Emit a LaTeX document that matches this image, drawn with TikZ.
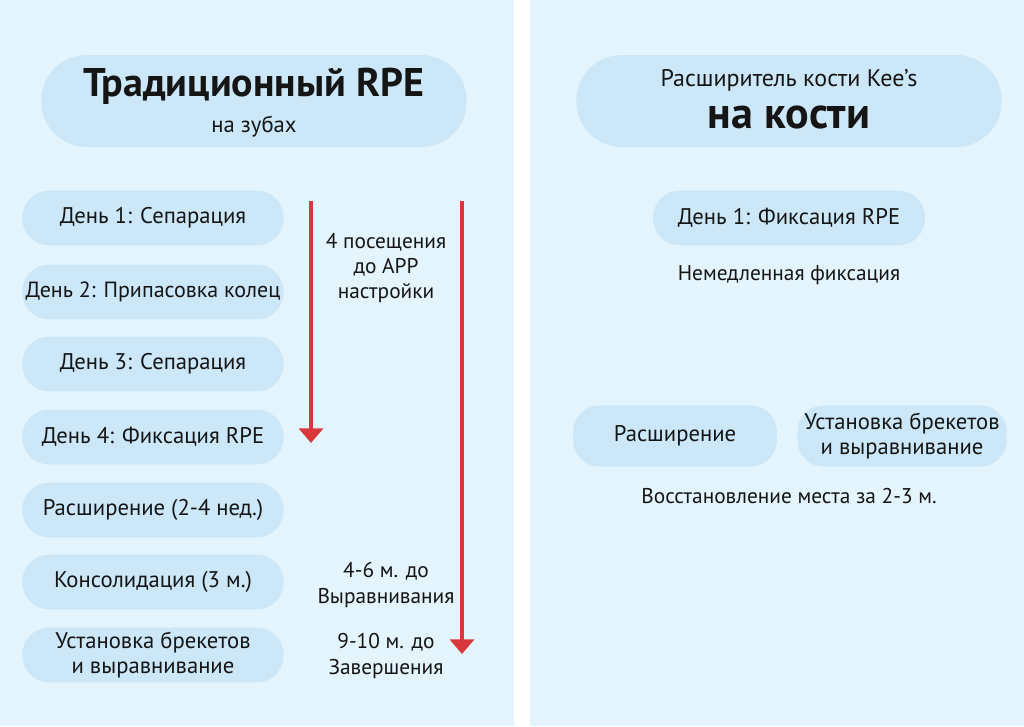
\documentclass[tikz,border=0pt]{standalone}
\usepackage{fontspec}
\setmainfont{PT Sans}
\usetikzlibrary{arrows.meta,positioning}
\usepackage{xcolor}
\definecolor{mbg}{HTML}{E4F4FC}
\definecolor{mpill}{HTML}{CCE8F8}
\definecolor{mred}{HTML}{D8383C}
\definecolor{mtext}{HTML}{151515}
\tikzstyle{pill}=[rectangle, fill=mpill, rounded corners=20pt, minimum height=41pt, inner sep=1pt, align=center, text=mtext, font=\fontsize{17}{19}\selectfont]
\tikzstyle{daypill}=[pill, minimum width=196pt]
\tikzstyle{headpill}=[pill, minimum width=319pt, minimum height=69pt, rounded corners=34pt]
\tikzstyle{lbl}=[align=center, text=mtext, font=\fontsize{16}{19}\selectfont]
\tikzstyle{redarr}=[line width=3.6pt, color=mred, -{Triangle[width=18pt,length=11pt]}]

\begin{document}
\begin{tikzpicture}[x=0.75pt, y=-0.75pt]
    \useasboundingbox (0,0) rectangle (1024,726);
    \fill[white] (0,0) rectangle (1024,726);
    \fill[mbg] (0,0) rectangle (514,726);
    \fill[mbg] (530,0) rectangle (1024,726);

    % left panel
    \node (lhead) [headpill] at (254,101) {};
    \node [text=mtext, font=\fontsize{30}{32}\selectfont\bfseries] at (254,86) {Традиционный RPE};
    \node [lbl, font=\fontsize{17}{19}\selectfont] at (254,127) {на зубах};

    \node (d1) [daypill] at (153,218) {День 1: Сепарация};
    \node (d2) [daypill, font=\fontsize{16.5}{19}\selectfont] at (153,292) {День 2: Припасовка колец};
    \node (d3) [daypill] at (153,364) {День 3: Сепарация};
    \node (d4) [daypill] at (153,437) {День 4: Фиксация RPE};
    \node (d5) [daypill] at (153,510) {Расширение (2-4 нед.)};
    \node (d6) [daypill] at (153,582) {Консолидация (3 м.)};
    \node (d7) [daypill] at (153,655) {Установка брекетов\\и выравнивание};

    \coordinate (a1s) at (311,201);
    \coordinate (a1e) at (311,443);
    \coordinate (a2s) at (462,201);
    \coordinate (a2e) at (462,654);
    \draw[redarr] (a1s) -- (a1e);
    \draw[redarr] (a2s) -- (a2e);

    \node (n1) [lbl] at (386,268) {4 посещения\\до APP\\настройки};
    \node (n2) [lbl] at (386,585) {4-6 м. до\\Выравнивания};
    \node (n3) [lbl] at (386,656) {9-10 м. до\\Завершения};

    % right panel
    \node (rhead) [headpill] at (789,101) {};
    \node [lbl, font=\fontsize{18}{20}\selectfont] at (789,80) {Расширитель кости Kee's};
    \node [text=mtext, font=\fontsize{33}{35}\selectfont\bfseries] at (789,117) {на кости};

    \node (r1) [pill, minimum width=204pt] at (789,218) {День 1: Фиксация RPE};
    \node (r1t) [lbl] at (789,275) {Немедленная фиксация};
    \node (r2) [pill, minimum width=153pt, minimum height=46pt] at (675,436) {Расширение};
    \node (r3) [pill, minimum width=157pt, minimum height=46pt] at (902,436) {Установка брекетов\\и выравнивание};
    \node (r3t) [lbl] at (789,496) {Восстановление места за 2-3 м.};
\end{tikzpicture}
\end{document}
